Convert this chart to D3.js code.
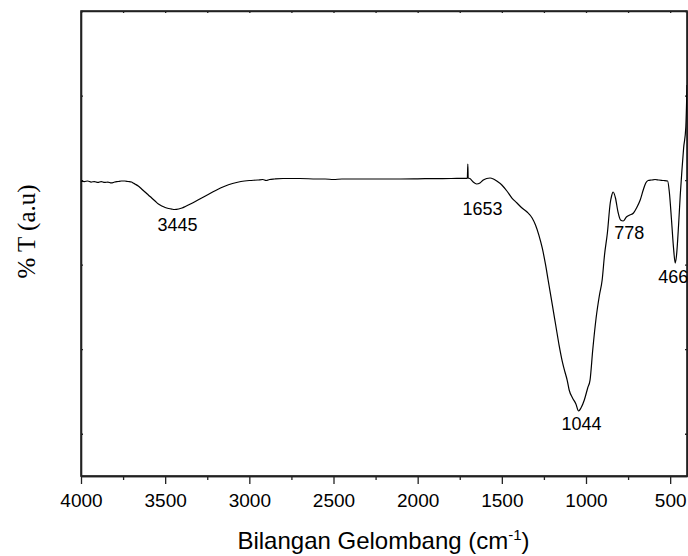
<!DOCTYPE html>
<html>
<head>
<meta charset="utf-8">
<script src="https://cdn.jsdelivr.net/npm/d3@7"></script>
<style>
  body { margin: 0; background: #fff; }
  svg text { fill: #000; }
</style>
</head>
<body>
<div id="chart"></div>
<script>
// FTIR spectrum, transmittance in arbitrary units
const wavenumber = [
  4000, 3980, 3960, 3940, 3920, 3900, 3880, 3860, 3840, 3820, 3800, 3780, 3760, 3740, 3720, 3700,
  3690, 3680, 3660, 3640, 3620, 3600, 3580, 3560, 3540, 3520, 3500, 3480, 3460, 3445, 3420, 3400,
  3380, 3350, 3300, 3250, 3200, 3150, 3100, 3050, 3000, 2950, 2920, 2900, 2880, 2850, 2800, 2700,
  2600, 2550, 2500, 2450, 2400, 2300, 2200, 2100, 2000, 1900, 1800, 1720, 1705, 1702, 1700, 1690,
  1670, 1650, 1630, 1610, 1590, 1570, 1550, 1530, 1500, 1470, 1440, 1410, 1380, 1350, 1320, 1300,
  1280, 1260, 1240, 1225, 1220, 1200, 1180, 1160, 1140, 1125, 1112, 1100, 1080, 1060, 1044, 1030,
  1010, 990, 976, 960, 940, 920, 904, 890, 873, 856, 848, 839, 825, 810, 795, 779,
  760, 740, 718, 700, 678, 660, 645, 631, 610, 590, 567, 540, 515, 505, 492, 480,
  470, 462, 450, 440, 430, 420, 407, 400
]
const transmittance = [
  34.89, 34.83, 34.89, 34.77, 34.83, 34.72, 34.83, 34.72, 34.77, 34.66, 34.77, 34.83, 34.89, 34.89, 34.83, 34.77,
  34.66, 34.54, 34.30, 33.95, 33.59, 33.24, 32.88, 32.53, 32.17, 31.94, 31.76, 31.64, 31.56, 31.52, 31.58, 31.70,
  31.88, 32.17, 32.70, 33.24, 33.77, 34.24, 34.60, 34.83, 34.95, 35.01, 35.07, 34.95, 35.07, 35.13, 35.19, 35.19,
  35.13, 35.13, 35.07, 35.13, 35.13, 35.13, 35.13, 35.13, 35.15, 35.18, 35.19, 35.21, 35.21, 36.90, 35.25, 35.19,
  34.77, 34.54, 34.66, 35.01, 35.19, 35.25, 35.13, 34.89, 34.42, 33.71, 32.88, 32.29, 31.70, 31.23, 30.52, 29.69,
  28.50, 26.97, 24.96, 23.18, 22.59, 20.23, 17.86, 15.49, 13.48, 12.30, 11.35, 10.17, 9.23, 8.52, 7.69, 8.04,
  8.99, 10.41, 11.35, 14.90, 18.69, 21.41, 23.18, 26.14, 28.74, 32.29, 33.12, 33.59, 32.88, 31.23, 30.28, 30.16,
  30.63, 30.87, 31.11, 31.70, 32.65, 33.83, 34.66, 34.95, 35.01, 35.07, 35.01, 34.95, 34.89, 33.59, 30.28, 26.97,
  25.19, 26.14, 29.69, 33.24, 36.19, 38.80, 41.28, 46.25
]

const peakLabels = ["3445", "1653", "1044", "778", "466"]
const peakWavenumber = [3445, 1650, 1044, 779, 470]

const xTicks = [4000, 3500, 3000, 2500, 2000, 1500, 1000, 500]
const xMinorTicks = [3750, 3250, 2750, 2250, 1750, 1250, 750]
const yTicks = [5, 15, 25, 35, 45, 55]

var margin = { top: 11, right: 1, bottom: 80, left: 81 },
    width = 688 - margin.left - margin.right,
    height = 556 - margin.top - margin.bottom

// small nudges for the peak labels, relative to the minimum of each band
const labelOffset = [[3, 21], [6, 31], [3, 19], [6, 18], [-2, 20]]

const xScale = d3.scaleLinear().domain([4000, 400]).range([0, width])
const yScale = d3.scaleLinear().domain([0, 55]).range([height, 0])

const data = wavenumber.map((w, i) => ({ w: w, t: transmittance[i] }))

const svg = d3.select("#chart")
    .append("svg")
    .attr("width", 688)
    .attr("height", 556)
    .append("g")
    .attr("transform", "translate(" + margin.left + "," + margin.top + ")")

const tickFont = "'Liberation Sans', Arial, sans-serif"

// bottom axis, major ticks with labels
const bottom = svg.append("g")
    .attr("transform", "translate(0," + height + ")")
    .call(d3.axisBottom(xScale).tickValues(xTicks).tickFormat(d3.format("d"))
        .tickSize(8).tickSizeOuter(0).tickPadding(9.5))
bottom.selectAll("text").style("font-family", tickFont).style("font-size", "19px")

// bottom minor ticks
svg.append("g")
    .attr("transform", "translate(0," + height + ")")
    .call(d3.axisBottom(xScale).tickValues(xMinorTicks).tickSize(4).tickSizeOuter(0).tickFormat(""))

// top axis, small inward ticks
svg.append("g")
    .call(d3.axisTop(xScale).tickValues(xTicks.concat(xMinorTicks)).tickSize(-2).tickSizeOuter(0).tickFormat(""))

// left and right, small inward ticks
svg.append("g")
    .call(d3.axisLeft(yScale).tickValues(yTicks).tickSize(-2).tickSizeOuter(0).tickFormat(""))
svg.append("g")
    .attr("transform", "translate(" + width + ",0)")
    .call(d3.axisRight(yScale).tickValues(yTicks).tickSize(-2).tickSizeOuter(0).tickFormat(""))

svg.selectAll(".domain").attr("stroke", "#222").attr("stroke-width", 1.6)
svg.selectAll(".tick line").attr("stroke", "#222").attr("stroke-width", 1.3)

// frame
svg.append("rect")
    .attr("x", 0)
    .attr("y", 0)
    .attr("width", width)
    .attr("height", height)
    .attr("fill", "none")
    .attr("stroke", "#222")
    .attr("stroke-width", 1.6)

// spectrum
svg.append("clipPath").attr("id", "clip")
    .append("rect").attr("width", width).attr("height", height)

svg.append("path")
    .datum(data)
    .attr("clip-path", "url(#clip)")
    .attr("fill", "none")
    .attr("stroke", "#000")
    .attr("stroke-width", 1.2)
    .attr("stroke-linejoin", "round")
    .attr("d", d3.line().x(d => xScale(d.w)).y(d => yScale(d.t)).curve(d3.curveMonotoneX))

// peak labels
peakLabels.forEach(function (lbl, i) {
    let idx = wavenumber.indexOf(peakWavenumber[i])
    svg.append("text")
        .attr("x", xScale(peakWavenumber[i]) + labelOffset[i][0])
        .attr("y", yScale(transmittance[idx]) + labelOffset[i][1])
        .attr("text-anchor", "middle")
        .style("font-family", tickFont)
        .style("font-size", "18px")
        .text(lbl)
})

// x-axis title
const xTitle = svg.append("text")
    .attr("x", 383.5 - margin.left)
    .attr("y", 549 - margin.top)
    .attr("text-anchor", "middle")
    .style("font-family", tickFont)
    .style("font-size", "24px")
xTitle.append("tspan").text("Bilangan Gelombang (cm")
xTitle.append("tspan").attr("dy", -9).style("font-size", "15px").text("-1")
xTitle.append("tspan").attr("dy", 9).text(")")

// y-axis title
svg.append("text")
    .attr("transform", "translate(" + (35 - margin.left) + "," + (231.5 - margin.top) + ") rotate(-90)")
    .attr("text-anchor", "middle")
    .style("font-family", "'Liberation Serif', 'Times New Roman', serif")
    .style("font-size", "25px")
    .text("% T (a.u)")
</script>
</body>
</html>
